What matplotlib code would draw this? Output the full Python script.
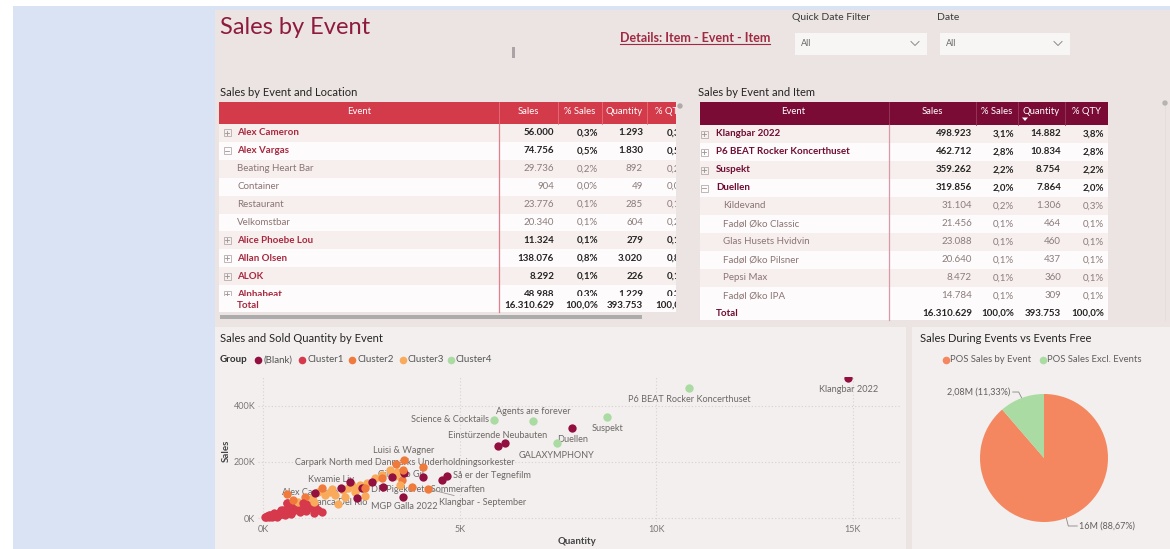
import matplotlib
matplotlib.use("Agg")
import matplotlib.pyplot as plt
from matplotlib.patches import Rectangle
from matplotlib.transforms import Bbox
from matplotlib import font_manager
import numpy as np

# ---------------- data ----------------
loc_names = ["Alex Cameron", "Alex Vargas", "Beating Heart Bar", "Container", "Restaurant",
             "Velkomstbar", "Alice Phoebe Lou", "Allan Olsen", "ALOK", "Alphabeat"]
loc_level = [0, 0, 1, 1, 1, 1, 0, 0, 0, 0]
loc_expanded = [False, True, False, False, False, False, False, False, False, False]
loc_sales = [56000, 74756, 29736, 904, 23776, 20340, 11324, 138076, 8292, 48988]
loc_pct_sales = [0.3, 0.5, 0.2, 0.0, 0.1, 0.1, 0.1, 0.8, 0.1, 0.3]
loc_qty = [1293, 1830, 892, 49, 285, 604, 279, 3020, 226, 1229]
loc_pct_qty = [0.3, 0.5, 0.2, 0.0, 0.1, 0.2, 0.1, 0.8, 0.1, 0.3]

item_names = ["Klangbar 2022", "P6 BEAT Rocker Koncerthuset", "Suspekt", "Duellen", "Kildevand",
              "Fadøl Øko Classic", "Glas Husets Hvidvin", "Fadøl Øko Pilsner", "Pepsi Max", "Fadøl Øko IPA"]
item_level = [0, 0, 0, 0, 1, 1, 1, 1, 1, 1]
item_expanded = [False, False, False, True, False, False, False, False, False, False]
item_sales = [498923, 462712, 359262, 319856, 31104, 21456, 23088, 20640, 8472, 14784]
item_pct_sales = [3.1, 2.8, 2.2, 2.0, 0.2, 0.1, 0.1, 0.1, 0.1, 0.1]
item_qty = [14882, 10834, 8754, 7864, 1306, 464, 460, 437, 360, 309]
item_pct_qty = [3.8, 2.8, 2.2, 2.0, 0.3, 0.1, 0.1, 0.1, 0.1, 0.1]

total_sales = 16310629
total_qty = 393753
total_pct = 100.0

table_headers_loc = ["Event", "Sales", "% Sales", "Quantity", "% QTY"]
table_headers_item = ["Event", "Sales", "% Sales", "Quantity", "% QTY"]

groups = ["(Blank)", "Cluster1", "Cluster2", "Cluster3", "Cluster4"]

# labelled events in scatter
label_names = ["Klangbar 2022", "P6 BEAT Rocker Koncerthuset", "Suspekt", "Duellen", "GALAXYMPHONY",
               "Agents are forever", "Science & Cocktails", "Einstürzende Neubauten", "Luisi & Wagner",
               "Carpark North med Danmarks Underholdningsorkester", "Så er der Tegnefilm", "Gilberto Gil",
               "Kwamie Liv", "DR Pigekorets Sommeraften", "Alex Cameron", "Bianca Del Rio",
               "MGP Galla 2022", "Klangbar - September"]
label_qty = [14882, 10834, 8754, 7864, 7475, 6865, 5873, 6153, 3585, 3560, 4678, 3483,
             1754, 2593, 1293, 1017, 3560, 4195]
label_sales = [498923, 462712, 359262, 319856, 268000, 346000, 350000, 268000, 207000, 171000,
               150000, 118000, 104000, 107000, 56000, 54000, 75000, 104000]
label_group = ["(Blank)", "Cluster4", "Cluster4", "(Blank)", "Cluster4", "Cluster4", "Cluster4",
               "(Blank)", "Cluster2", "Cluster2", "(Blank)", "Cluster3", "Cluster3", "Cluster2",
               "Cluster3", "Cluster1", "(Blank)", "Cluster2"]

# other (unlabelled) events per group
blank_qty = [5975, 4551, 4068, 3585, 3280, 3051, 2771, 2517, 2212, 2390, 1983, 1322]
blank_sales = [257000, 136000, 146000, 161000, 146000, 111000, 129000, 107000, 129000, 71000, 107000, 89000]
c1_qty = [50, 100, 130, 180, 200, 250, 300, 330, 380, 430, 480, 510, 550, 610, 650, 690, 740, 800,
          870, 940, 990, 1070, 1150, 1320, 1400, 1300, 600, 450, 360, 220, 700, 900, 1200, 80, 150,
          280, 400, 550, 1020, 1500, 610, 160, 260, 350, 470, 520, 640, 760, 820, 1100]
c1_sales = [4000, 8000, 6000, 12000, 7000, 11000, 16000, 10000, 14000, 22000, 18000, 30000, 24000,
            21000, 33000, 39000, 29000, 45000, 36000, 21000, 39000, 54000, 36000, 39000, 29000, 18000,
            52000, 28000, 5000, 3000, 15000, 27000, 45000, 2000, 9000, 19000, 9000, 12000, 30000, 20000,
            54000, 3000, 6000, 13000, 14000, 26000, 43000, 24000, 38000, 25000]
c2_qty = [3382, 4068, 3534, 3789, 3026, 610, 1068, 1500, 763]
c2_sales = [193000, 182000, 136000, 111000, 143000, 86000, 75000, 107000, 64000]
c3_qty = [1704, 1831, 2161, 2263, 2339, 2415, 2644, 2848, 3026, 2593, 1907, 1246, 1398, 1576,
          3407, 3356, 2085, 890, 2466, 2034, 3229]
c3_sales = [93000, 82000, 107000, 118000, 93000, 107000, 125000, 143000, 154000, 79000, 50000,
            71000, 93000, 82000, 164000, 150000, 75000, 57000, 118000, 100000, 171000]

x_ticks = [0, 5000, 10000, 15000]
x_tick_labels = ["0K", "5K", "10K", "15K"]
y_ticks = [0, 200000, 400000]
y_tick_labels = ["0K", "200K", "400K"]

pie_labels = ["POS Sales by Event", "POS Sales Excl. Events"]
pie_values = [16310629, 2084125]

# ---------------- styles ----------------
avail = {f.name for f in font_manager.fontManager.ttflist}
def pick(cands):
    for c in cands:
        if c in avail:
            return c
    return "DejaVu Sans"
FONT = pick(["Lato", "Roboto", "Open Sans"])

group_colors = {"(Blank)": "#920f40", "Cluster1": "#d6394b", "Cluster2": "#ef7a3c",
                "Cluster3": "#f9ab5b", "Cluster4": "#a9dba2"}
pie_colors = ["#f4875f", "#a9dba2"]

label_offset = {  # dx, dy (pixels, dy positive = down), ha
    "Klangbar 2022": (0, 11, "center"),
    "P6 BEAT Rocker Koncerthuset": (0, 11, "center"),
    "Suspekt": (0, 11, "center"),
    "Duellen": (0, 11, "center"),
    "GALAXYMPHONY": (0, 13, "center"),
    "Agents are forever": (0, -10, "center"),
    "Science & Cocktails": (-5, 0, "right"),
    "Einstürzende Neubauten": (-7, -7, "center"),
    "Luisi & Wagner": (0, -10, "center"),
    "Carpark North med Danmarks Underholdningsorkester": (2, -8, "center"),
    "Så er der Tegnefilm": (6, 0, "left"),
    "Gilberto Gil": (1, -10, "center"),
    "Kwamie Liv": (-1, -9, "center"),
    "DR Pigekorets Sommeraften": (6, 1, "left"),
    "Alex Cameron": (-4, -10, "center"),
    "Bianca Del Rio": (6, 0, "left"),
    "MGP Galla 2022": (1, 10, "center"),
    "Klangbar - September": (11, 14, "left"),
}

# ---------------- figure ----------------
W, H = 1170, 549
BG = "#ebe4e2"
fig = plt.figure(figsize=(W / 100, H / 100), dpi=100)
fig.patch.set_facecolor("white")
ov = fig.add_axes([0, 0, 1, 1])
ov.set_xlim(0, W)
ov.set_ylim(H, 0)
ov.axis("off")


def rect(x0, y0, x1, y1, color, z=1, **kw):
    ov.add_patch(Rectangle((x0, y0), x1 - x0, y1 - y0, facecolor=color, edgecolor="none", zorder=z, **kw))


def txt(x, y, s, size=7, color="#333333", weight="normal", ha="left", va="center", z=5, **kw):
    return ov.text(x, y, s, fontsize=size, color=color, fontweight=weight, ha=ha, va=va,
                   family=FONT, zorder=z, **kw)


def dk_int(n):
    return f"{n:,}".replace(",", ".")


def dk_pct(p):
    return f"{p:.1f}".replace(".", ",") + "%"


# background
rect(13, 6, W, H, "#dae3f3", z=0)
rect(215, 10, W, H, BG, z=0.5)
rect(215, 327, 906, H, "#f3efee", z=0.6)
rect(912, 327, W, H, "#f3efee", z=0.6)

# header area
txt(220, 28, "Sales by Event", size=17, color="#8e1b3f")
det = txt(620, 38, "Details: Item - Event - Item", size=9, color="#a02a42", weight="bold")
renderer = fig.canvas.get_renderer()
dext = det.get_window_extent(renderer)
ov.plot([620, 620 + dext.width], [43.5, 43.5], color="#a02a42", lw=0.8, zorder=5)
rect(512, 47, 515, 58, "#aaa5a4", z=2)
txt(792, 18, "Quick Date Filter", size=7.5, color="#3a3a3a")
txt(937, 18, "Date", size=7.5, color="#3a3a3a")
for bx0, bx1 in [(795, 927), (940, 1070)]:
    rect(bx0, 33, bx1, 55, "#f8f6f5", z=2)
    txt(bx0 + 6, 44, "All", size=6.5, color="#6b6866")
    cx = bx1 - 12
    ov.plot([cx - 4, cx, cx + 4], [41.5, 45.5, 41.5], color="#8a8a8a", lw=0.7, zorder=5)


# ---------------- tables ----------------
def draw_table(cols, top, hdr_bot, row_h, hdr_color, sep_color, div_color, headers, names, levels,
               expanded, sales, pct_s, qty, pct_q, name_color, total_top, total_bot, icon_x,
               text_x, sub_x, hdr_y, clip=None):
    x0, x1 = cols[0], cols[-1]
    texts = []
    rect(x0, top, x1, hdr_bot, hdr_color, z=2)
    for i, h in enumerate(headers):
        texts.append(txt((cols[i] + cols[i + 1]) / 2, hdr_y, h, size=6.8,
                         color="white", ha="center", z=6))
    for c in cols[1:-1]:
        ov.plot([c, c], [top, hdr_bot], color=sep_color, lw=0.6, zorder=3)
    rights = [c - 4 for c in cols[2:]]
    for i, nm in enumerate(names):
        y0 = hdr_bot + row_h * i
        yc = y0 + row_h / 2
        rect(x0, y0, x1, y0 + row_h, "#f6efee" if i % 2 == 0 else "#fdfbfb", z=2)
        if levels[i] == 0:
            ov.add_patch(Rectangle((icon_x - 3.5, yc - 3.5), 7, 7, facecolor="none",
                                   edgecolor="#b5adad", lw=0.6, zorder=5))
            ov.plot([icon_x - 2, icon_x + 2], [yc, yc], color="#9a9292", lw=0.6, zorder=5)
            if not expanded[i]:
                ov.plot([icon_x, icon_x], [yc - 2, yc + 2], color="#9a9292", lw=0.6, zorder=5)
            texts.append(txt(text_x, yc, nm, size=7, color=name_color, weight="bold"))
            ncol, nw = "#252423", "bold"
        else:
            texts.append(txt(sub_x, yc, nm, size=7, color="#8c7474"))
            ncol, nw = "#8c7c7c", "normal"
        vals = [dk_int(sales[i]), dk_pct(pct_s[i]), dk_int(qty[i]), dk_pct(pct_q[i])]
        for v, r in zip(vals, rights):
            texts.append(txt(r, yc, v, size=7, color=ncol, weight=nw, ha="right"))
    rect(x0, total_top, x1, total_bot, "#fdfbfb", z=6)
    ty = (total_top + total_bot) / 2 + 1
    texts.append(txt(text_x, ty, "Total", size=7, color=name_color, weight="bold", z=7))
    tvals = [dk_int(total_sales), dk_pct(total_pct), dk_int(total_qty), dk_pct(total_pct)]
    for v, r in zip(tvals, rights):
        texts.append(txt(r, ty, v, size=7, color="#252423", weight="bold", ha="right", z=7))
    ov.plot([cols[1], cols[1]], [hdr_bot, total_bot], color=div_color, lw=0.9, zorder=8)
    if clip is not None:
        bb = Bbox.from_extents(clip[0], H - clip[3], clip[2], H - clip[1])
        for t in texts:
            t.set_clip_box(bb)
            t.set_clip_on(True)


txt(220, 92, "Sales by Event and Location", size=8, color="#252423")
draw_table([219, 499, 558, 602, 647, 692], 102, 124, 17.9, "#d33b4b", "#e7707c", "#e27f8c",
           table_headers_loc, loc_names, loc_level, loc_expanded, loc_sales, loc_pct_sales,
           loc_qty, loc_pct_qty, "#a8283f", 296, 312, 227, 237, 237, 112, clip=(219, 95, 676, 330))
# cover clipped part of table 1
rect(676, 100, 700, 322, BG, z=9)
ov.add_patch(plt.Circle((680, 106), 2, color="#b0aaaa", zorder=10))
ov.add_patch(Rectangle((220, 314.5), 422, 4, facecolor="#acacac", edgecolor="none", zorder=9))

txt(698, 92, "Sales by Event and Item", size=8, color="#252423")
draw_table([698, 889, 976, 1018, 1065, 1108], 102, 125, 18, "#7a0b35", "#9a3a5a", "#d79aa8",
           table_headers_item, item_names, item_level, item_expanded, item_sales, item_pct_sales,
           item_qty, item_pct_qty, "#700c32", 305, 320, 704, 716, 723, 111.5)
ov.fill([1022, 1028, 1025], [117.5, 117.5, 121], color="white", zorder=7, lw=0)
ov.add_patch(plt.Circle((1165, 103), 2, color="#b8b2b2", zorder=10))
ov.plot([1165, 1165], [106, 320], color="#e2dcdc", lw=0.6, zorder=3)

# ---------------- scatter ----------------
txt(220, 339, "Sales and Sold Quantity by Event", size=8, color="#252423")
txt(220, 360, "Group", size=7, color="#333333", weight="bold")
leg_dot_x = [258, 302, 352, 403, 451]
for gx, g in zip(leg_dot_x, groups):
    ov.scatter([gx], [360], s=30, color=group_colors[g], zorder=6, linewidths=0)
    txt(gx + 5, 360, g, size=7, color="#555555")


def px_axes(x0, y0, x1, y1):
    return fig.add_axes([x0 / W, 1 - y1 / H, (x1 - x0) / W, (y1 - y0) / H])


sc = px_axes(258, 377, 900, 522)
q_px = 39.33 / 1000.0  # pixels per unit quantity
s_px = 0.28 / 1000.0  # pixels per unit sales
sc.set_xlim(-(263 - 258) / q_px, (900 - 263) / q_px)
sc.set_ylim(-(522 - 518) / s_px, (518 - 377) / s_px)
sc.set_facecolor("none")
for sp in sc.spines.values():
    sp.set_visible(False)
sc.set_xticks(x_ticks)
sc.set_xticklabels(x_tick_labels)
sc.set_yticks(y_ticks)
sc.set_yticklabels(y_tick_labels)
sc.tick_params(length=0, labelsize=6.5, colors="#7a7776", pad=2)
for lab in sc.get_xticklabels() + sc.get_yticklabels():
    lab.set_family(FONT)
sc.grid(True, color="#d8d1d0", linestyle=(0, (1, 2)), linewidth=0.8)
sc.set_axisbelow(True)

mk = 36
sc.scatter(c1_qty, c1_sales, s=mk, color=group_colors["Cluster1"], linewidths=0, zorder=3, clip_on=False)
sc.scatter(c3_qty, c3_sales, s=mk, color=group_colors["Cluster3"], linewidths=0, zorder=3)
sc.scatter(c2_qty, c2_sales, s=mk, color=group_colors["Cluster2"], linewidths=0, zorder=3)
sc.scatter(blank_qty, blank_sales, s=mk, color=group_colors["(Blank)"], linewidths=0, zorder=3)
for nm, q, s, g in zip(label_names, label_qty, label_sales, label_group):
    sc.scatter([q], [s], s=mk, color=group_colors[g], linewidths=0, zorder=3)
    dx, dy, ha = label_offset[nm]
    arrow = None
    if nm == "Klangbar - September":
        arrow = dict(arrowstyle="-", color="#9a9696", lw=0.6, shrinkA=0, shrinkB=3)
    sc.annotate(nm, (q, s), xytext=(dx, -dy), textcoords="offset pixels", ha=ha, va="center",
                fontsize=6.6, color="#6b6866", family=FONT, zorder=2, arrowprops=arrow,
                annotation_clip=False)

txt(577, 541, "Quantity", size=7, color="#444444", weight="bold", ha="center")
txt(226, 451, "Sales", size=7, color="#444444", weight="bold", ha="center", rotation=90)

# ---------------- pie ----------------
txt(920, 339, "Sales During Events vs Events Free", size=8, color="#252423")
ov.scatter([946], [360], s=30, color=pie_colors[0], zorder=6, linewidths=0)
txt(950, 360, pie_labels[0], size=6.8, color="#605e5c")
ov.scatter([1043], [360], s=30, color=pie_colors[1], zorder=6, linewidths=0)
txt(1047, 360, pie_labels[1], size=6.8, color="#605e5c")

pcx, pcy, pr = 1044, 458, 64
pa = px_axes(pcx - pr, pcy - pr, pcx + pr, pcy + pr)
wedges, _ = pa.pie(pie_values, colors=pie_colors, startangle=90, counterclock=False,
                   wedgeprops=dict(linewidth=0))
pa.set_xlim(-1, 1)
pa.set_ylim(-1, 1)
pa.axis("off")

tot = sum(pie_values)


def fmt_m(v):
    m = v / 1e6
    s = f"{m:.0f}M" if m >= 10 else f"{m:.2f}M"
    return s.replace(".", ",")


for w, v in zip(wedges, pie_values):
    a = np.deg2rad((w.theta1 + w.theta2) / 2)
    ex, ey = pcx + pr * np.cos(a), pcy - pr * np.sin(a)
    lab = f"{fmt_m(v)} ({v / tot * 100:.2f}%)".replace(".", ",")
    if np.cos(a) < 0:
        ov.plot([ex, ex - 3, ex - 9], [ey, ey - 6, ey - 6], color="#8a8686", lw=0.6, zorder=6)
        txt(ex - 11, ey - 6, lab, size=6.5, color="#605e5c", ha="right")
    else:
        ov.plot([ex, ex + 2, ex + 11], [ey, ey + 8, ey + 8], color="#8a8686", lw=0.6, zorder=6)
        txt(ex + 13, ey + 8, lab, size=6.5, color="#605e5c", ha="left")

fig.savefig("out.png", dpi=100, facecolor=fig.get_facecolor())
